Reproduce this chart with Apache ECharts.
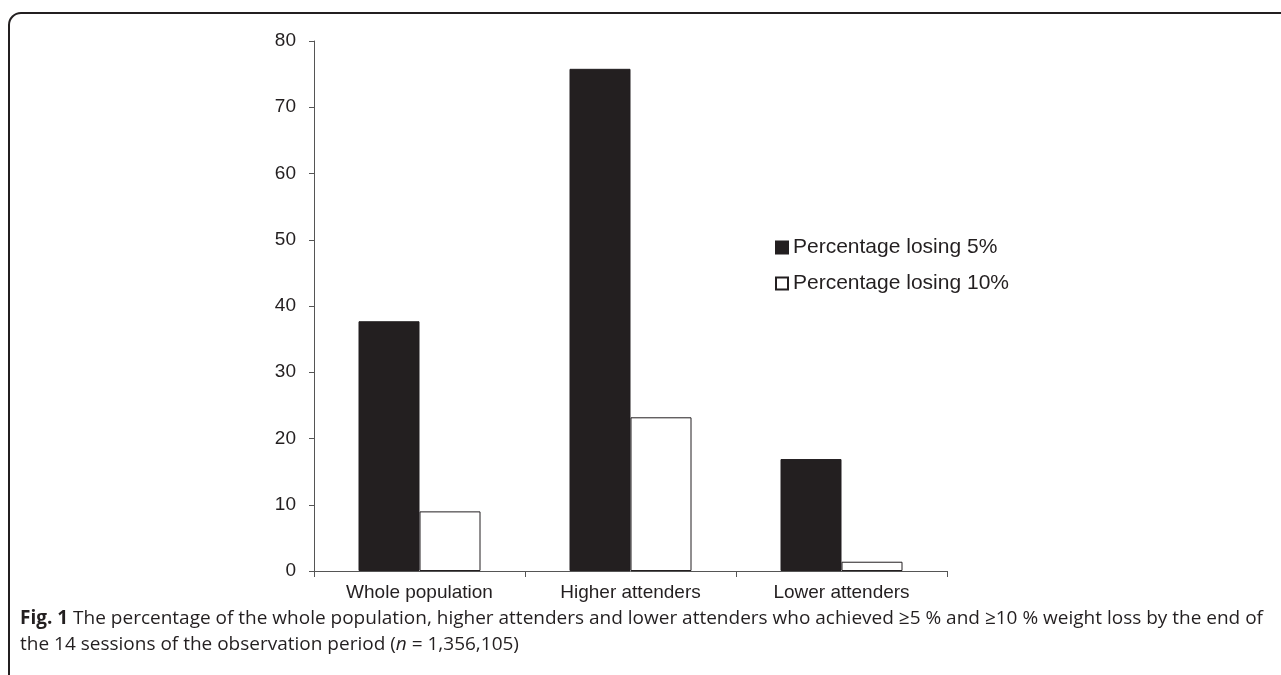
<!DOCTYPE html>
<html>
<head>
<meta charset="utf-8">
<script src="https://cdn.jsdelivr.net/npm/echarts@6/dist/echarts.min.js"></script>
<style>
html,body{margin:0;padding:0;background:#fff;}
#chart{width:1281px;height:675px;}
</style>
</head>
<body>
<div id="chart"></div>
<script>
const categories = ['Whole population', 'Higher attenders', 'Lower attenders'];
const pct5 = [37.7, 75.8, 16.9];
const pct10 = [9.0, 23.2, 1.4];
const seriesNames = ['Percentage losing 5%', 'Percentage losing 10%'];
const yTicks = { min: 0, max: 80, interval: 10 };

const ink = '#231f20';
const chart = echarts.init(document.getElementById('chart'));
chart.setOption({
  backgroundColor: '#fff',
  animation: false,
  title: {
    left: 15,
    top: 601,
    text: '{b|Fig. 1} The percentage of the whole population, higher attenders and lower attenders who achieved \u22655 % and \u226510 % weight loss by the end of\nthe 14 sessions of the observation period ({i|n} = 1,356,105)',
    textStyle: {
      fontFamily: 'Open Sans',
      fontSize: 19,
      fontWeight: 'normal',
      color: ink,
      lineHeight: 26,
      rich: {
        b: { fontFamily: 'Open Sans', fontSize: 19, fontWeight: 'bold', color: ink, lineHeight: 26 },
        i: { fontFamily: 'Open Sans', fontSize: 19, fontStyle: 'italic', color: ink, lineHeight: 26 }
      }
    }
  },
  legend: {
    orient: 'vertical',
    left: 770,
    top: 232,
    itemWidth: 12,
    itemHeight: 12,
    itemGap: 15,
    icon: 'rect',
    textStyle: { fontFamily: 'Liberation Sans', fontSize: 21, color: ink },
    data: seriesNames
  },
  grid: { left: 314, right: 334, top: 41, bottom: 104, containLabel: false },
  xAxis: {
    type: 'category',
    data: categories,
    axisLine: { lineStyle: { color: '#555', width: 1 } },
    axisTick: { show: true, length: 6, lineStyle: { color: '#555' } },
    axisLabel: { fontFamily: 'Liberation Sans', fontSize: 19, color: ink, margin: 12 }
  },
  yAxis: {
    type: 'value',
    min: yTicks.min,
    max: yTicks.max,
    interval: yTicks.interval,
    axisLine: { show: true, lineStyle: { color: '#555', width: 1 } },
    axisTick: { show: true, length: 5, lineStyle: { color: '#555' } },
    splitLine: { show: false },
    axisLabel: { fontFamily: 'Liberation Sans', fontSize: 19, color: ink, margin: 18 }
  },
  series: [
    {
      name: seriesNames[0],
      type: 'bar',
      data: pct5,
      barWidth: 61,
      barGap: '0%',
      itemStyle: { color: ink, borderColor: ink, borderWidth: 1 }
    },
    {
      name: seriesNames[1],
      type: 'bar',
      data: pct10,
      barWidth: 61,
      barGap: '0%',
      itemStyle: { color: '#fff', borderColor: ink, borderWidth: 1 }
    }
  ],
  graphic: [
    {
      type: 'rect',
      shape: { x: 9, y: 13, width: 1400, height: 800, r: 12 },
      style: { fill: 'none', stroke: ink, lineWidth: 2 },
      silent: true
    }
  ]
});
</script>
</body>
</html>
